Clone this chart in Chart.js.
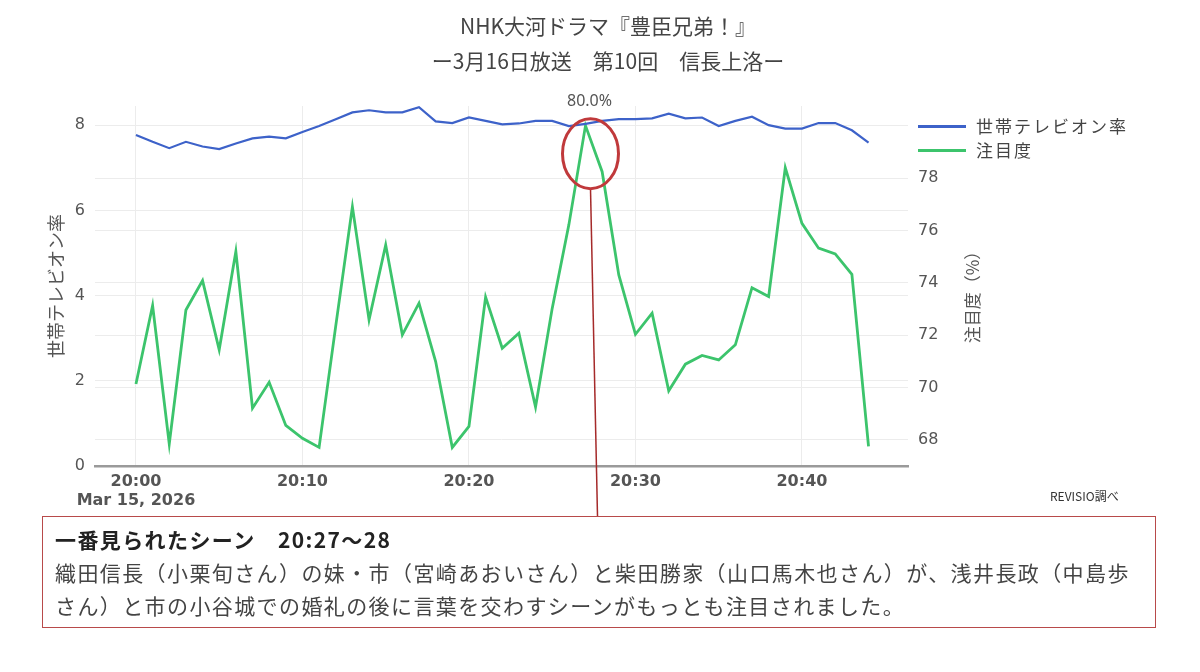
<!DOCTYPE html>
<html lang="ja">
<head>
<meta charset="utf-8">
<title>NHK大河ドラマ『豊臣兄弟！』 注目度</title>
<script src="https://cdn.jsdelivr.net/npm/chart.js@4.4.1/dist/chart.umd.min.js"></script>
<style>
  html, body { margin: 0; padding: 0; background: #fff; }
  body { width: 1200px; height: 672px; position: relative; overflow: hidden;
         font-family: "Noto Sans CJK JP", "Noto Sans", sans-serif; color: #444; }
  #cv { position: absolute; left: 0; top: 0; }
  .title { position: absolute; left: 0; width: 1216px; text-align: center; font-size: 21px; color: #444; }
  .legend { position: absolute; left: 918px; font-size: 17px; letter-spacing: 2px; color: #444; }
  .legend .row { position: relative; height: 24px; line-height: 24px; padding-left: 58px; white-space: nowrap; }
  .legend .swatch { position: absolute; left: 0; top: 11px; width: 48px; height: 2.5px; }
  .source { position: absolute; left: 1050px; top: 487px; font-size: 12px; color: #333; }
  .note { position: absolute; left: 42px; top: 516px; width: 1100px; height: 98px;
          border: 1.5px solid #b84a4a; padding: 6px 0 6px 12px; font-size: 21px;
          letter-spacing: 1.4px; line-height: 33px; white-space: nowrap; color: #444; }
  .note b { color: #222; }
</style>
</head>
<body>
<canvas id="cv" width="1200" height="672"></canvas>
<div class="title" style="top:10px">NHK大河ドラマ『豊臣兄弟！』</div>
<div class="title" style="top:45px">ー3月16日放送　第10回　信長上洛ー</div>
<div class="legend" id="legend" style="top:114px"></div>
<div class="source">REVISIO調べ</div>
<div class="note">
  <b>一番見られたシーン　20:27～28</b><br>
  織田信長（小栗旬さん）の妹・市（宮崎あおいさん）と柴田勝家（山口馬木也さん）が、浅井長政（中島歩<br>
  さん）と市の小谷城での婚礼の後に言葉を交わすシーンがもっとも注目されました。
</div>
<script>
// minutes after 20:00 (Mar 15, 2026)
const minutes = [0, 1, 2, 3, 4, 5, 6, 7, 8, 9, 10, 11, 12, 13, 14, 15, 16, 17, 18, 19, 20, 21,
  22, 23, 24, 25, 26, 27, 28, 29, 30, 31, 32, 33, 34, 35, 36, 37, 38, 39, 40, 41, 42, 43, 44];

const tvOnRate = [7.77, 7.61, 7.46, 7.61, 7.50, 7.44, 7.57, 7.69, 7.73, 7.69, 7.84, 7.98, 8.14,
  8.30, 8.35, 8.30, 8.30, 8.42, 8.09, 8.05, 8.18, 8.10, 8.02, 8.04, 8.10, 8.10, 7.98, 8.03,
  8.10, 8.14, 8.14, 8.16, 8.27, 8.16, 8.18, 7.98, 8.10, 8.20, 8.00, 7.92, 7.92, 8.05, 8.05,
  7.88, 7.59];

const attention = [70.13, 73.13, 67.84, 72.96, 74.08, 71.44, 75.19, 69.21, 70.20, 68.55, 68.06,
  67.71, 72.35, 76.90, 72.58, 75.44, 72.01, 73.22, 70.99, 67.71, 68.51, 73.45, 71.50, 72.07,
  69.25, 73.02, 76.21, 80.0, 78.24, 74.30, 72.03, 72.84, 69.87, 70.89, 71.22, 71.05, 71.63,
  73.81, 73.47, 78.39, 76.27, 75.32, 75.10, 74.32, 67.75];

const seriesNames = ['世帯テレビオン率', '注目度'];
const seriesColors = ['#3d62c9', '#3cc46c'];

const xTickValues = [0, 10, 20, 30, 40];
const xTickLabels = ['20:00', '20:10', '20:20', '20:30', '20:40'];
const dateLabel = 'Mar 15, 2026';
const leftTicks = [0, 2, 4, 6, 8];
const rightTicks = [68, 70, 72, 74, 76, 78];

// html legend
const legendEl = document.getElementById('legend');
seriesNames.forEach((name, i) => {
  const row = document.createElement('div');
  row.className = 'row';
  row.innerHTML = `<span class="swatch" style="background:${seriesColors[i]}"></span>${name}`;
  legendEl.appendChild(row);
});

const tickFont = { family: 'DejaVu Sans', size: 16 };

// peak label, circle and leader line + right axis title
const notePlugin = {
  id: 'notePlugin',
  afterDatasetsDraw(chart) {
    const ctx = chart.ctx;
    const peak = Math.max(...attention);
    const pt = chart.getDatasetMeta(1).data[attention.indexOf(peak)];
    ctx.save();
    ctx.fillStyle = '#555';
    ctx.font = '16px "Noto Sans"';
    ctx.textAlign = 'center';
    ctx.textBaseline = 'middle';
    ctx.fillText(peak.toFixed(1) + '%', pt.x + 4, pt.y - 24);

    const cx = pt.x + 5, cy = pt.y + 28;
    ctx.strokeStyle = '#a52a2a';
    ctx.lineWidth = 1.5;
    ctx.beginPath();
    ctx.moveTo(cx, cy + 35);
    ctx.lineTo(pt.x + 12, 516);
    ctx.stroke();

    ctx.strokeStyle = '#c0393b';
    ctx.lineWidth = 3;
    ctx.beginPath();
    ctx.ellipse(cx, cy, 28, 35, 0, 0, Math.PI * 2);
    ctx.stroke();

    const area = chart.chartArea;
    ctx.translate(area.right + 65, (area.top + area.bottom) / 2 + 7);
    ctx.rotate(-Math.PI / 2);
    ctx.font = '17px "Noto Sans CJK JP"';
    ctx.fillStyle = '#555';
    ctx.fillText('注目度（%）', 0, 0);
    ctx.restore();
  }
};

new Chart(document.getElementById('cv'), {
  type: 'line',
  data: {
    datasets: [
      {
        label: seriesNames[0],
        data: minutes.map((m, i) => ({ x: m, y: tvOnRate[i] })),
        borderColor: seriesColors[0],
        borderWidth: 2.2,
        yAxisID: 'y'
      },
      {
        label: seriesNames[1],
        data: minutes.map((m, i) => ({ x: m, y: attention[i] })),
        borderColor: seriesColors[1],
        borderWidth: 2.8,
        yAxisID: 'y1'
      }
    ]
  },
  options: {
    responsive: false,
    animation: false,
    devicePixelRatio: 1,
    layout: { padding: { top: 106, left: 0, right: 0, bottom: 0 } },
    elements: { point: { radius: 0 }, line: { tension: 0 } },
    plugins: { legend: { display: false }, tooltip: { enabled: false } },
    scales: {
      x: {
        type: 'linear',
        bounds: 'data',
        min: -2.46,
        max: 46.37,
        afterFit: (s) => { s.height = 206; },
        afterBuildTicks: (s) => { s.ticks = xTickValues.map(v => ({ value: v })); },
        grid: { color: '#ececec', drawTicks: false },
        border: { color: '#9a9a9a', width: 2.5 },
        ticks: {
          autoSkip: false,
          maxRotation: 0,
          padding: 6,
          color: '#555',
          font: { ...tickFont, weight: 'bold' },
          callback: (v) => {
            const lab = xTickLabels[xTickValues.indexOf(v)];
            return v === xTickValues[0] ? [lab, dateLabel] : lab;
          }
        }
      },
      y: {
        position: 'left',
        bounds: 'data',
        min: 0,
        max: 8.45,
        afterFit: (s) => { s.width = 95; },
        afterBuildTicks: (s) => { s.ticks = leftTicks.map(v => ({ value: v })); },
        grid: { color: '#ececec', drawTicks: false },
        border: { display: false },
        ticks: { padding: 10, color: '#555', font: tickFont },
        title: {
          display: true,
          text: seriesNames[0],
          color: '#555',
          font: { family: 'Noto Sans CJK JP', size: 18 },
          padding: { top: 45, bottom: 0 }
        }
      },
      y1: {
        position: 'right',
        bounds: 'data',
        min: 67,
        max: 80.75,
        afterFit: (s) => { s.width = 292; },
        afterBuildTicks: (s) => { s.ticks = rightTicks.map(v => ({ value: v })); },
        grid: { color: '#ececec', drawTicks: false },
        border: { display: false },
        ticks: { padding: 10, color: '#555', font: tickFont }
      }
    }
  },
  plugins: [notePlugin]
});
</script>
</body>
</html>
